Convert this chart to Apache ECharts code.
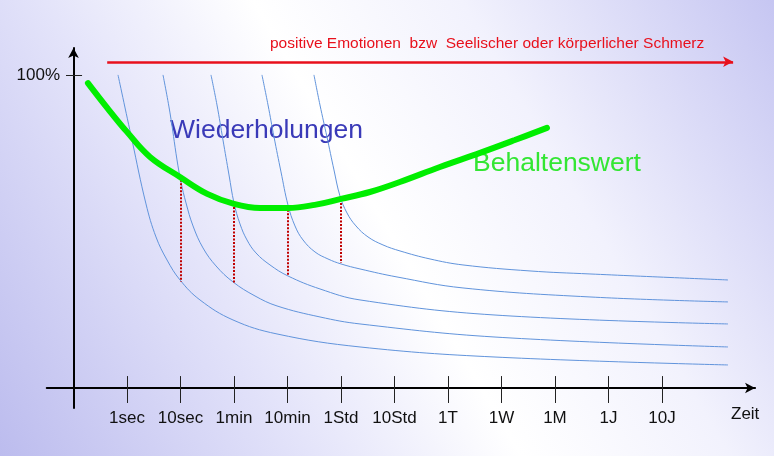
<!DOCTYPE html>
<html><head><meta charset="utf-8">
<script src="https://cdn.jsdelivr.net/npm/echarts@6/dist/echarts.min.js"></script>
<style>html,body{margin:0;padding:0;background:#fff;}#c{width:774px;height:456px;}</style>
</head><body><div id="c"></div>
<script>
// ---- data ----
const tickNames = ['1sec','10sec','1min','10min','1Std','10Std','1T','1W','1M','1J','10J'];
const tickPos = [1,2,3,4,5,6,7,8,9,10,11];
const yTickValues = [100];
const xName = 'Zeit';
const topText = 'positive Emotionen  bzw  Seelischer oder körperlicher Schmerz';
const repLabel = 'Wiederholungen';
const retLabel = 'Behaltenswert';

// forgetting curves (x = log-time position, y = percent)
const curve1 = [[0.832,100],[1.093,79.23],[1.355,58.79],[1.542,48.24],[1.748,40.89],[1.991,34.50],[2.364,28.12],[2.981,21.73],[3.804,17.25],[5.355,13.10],[7.860,9.90],[12.234,7.35]];
const curve2 = [[1.673,100],[1.804,87.86],[1.935,72.84],[2.009,65.81],[2.103,59.11],[2.234,51.76],[2.421,44.73],[2.664,38.98],[2.981,33.87],[3.393,29.39],[3.804,26.20],[4.607,22.68],[5.355,20.45],[7.860,16.29],[12.234,13.10]];
const curve3 = [[2.570,100],[2.682,90.42],[2.794,79.23],[2.907,68.05],[3.000,59.11],[3.112,52.40],[3.243,47.28],[3.411,43.13],[3.673,39.30],[4.009,35.78],[4.607,31.63],[5.355,28.12],[7.860,23.32],[12.234,20.45]];
const curve4 = [[3.523,100],[3.636,90.42],[3.748,80.19],[3.879,69.01],[4.009,58.47],[4.140,51.76],[4.290,47.28],[4.514,43.45],[4.757,41.21],[5.000,39.62],[5.355,38.02],[6.047,35.46],[7.280,31.95],[9.654,29.07],[12.234,27.48]];
const curve5 = [[4.495,100],[4.607,90.42],[4.738,80.19],[4.869,69.65],[4.981,61.34],[5.112,55.91],[5.280,51.76],[5.505,48.24],[5.785,45.69],[6.103,43.77],[6.664,41.21],[7.280,39.30],[8.533,37.38],[9.654,36.42],[12.234,34.50]];
// retention value curve
const retention = [[0.27,97.4],[0.63,89.5],[1.0,81.8],[1.43,73.8],[1.99,67.4],[2.50,62.0],[3.0,58.8],[3.49,57.5],[4.01,57.5],[4.51,58.5],[5.0,60.4],[5.54,62.6],[6.10,65.8],[6.85,70.6],[7.60,75.1],[8.25,79.2],[8.85,83.1]];
// dotted repetition markers
const dotX = [2,3,4,5];
const dotTop = [66.5,57.8,56.9,59.1];
const dotBottom = [33.9,33.5,35.8,39.9];
// top arrow
const arrowY = 104.2, arrowFrom = 0.63, arrowTo = 12.33;

// ---- chart ----
const FONT = '"Liberation Sans", Arial, sans-serif';
const chart = echarts.init(document.getElementById('c'), null, {renderer:'canvas'});
const blue = [curve1,curve2,curve3,curve4,curve5].map(d => ({
  type:'line', data:d, smooth:0.4, symbol:'none', silent:true, z:2,
  lineStyle:{color:'#6194dc', width:1}
}));
chart.setOption({
  animation:false,
  backgroundColor:{type:'linear', x:0, y:1, x2:1, y2:0, colorStops:[
    {offset:0,color:'#bcbcee'},{offset:0.3,color:'#e4e4fa'},{offset:0.5,color:'#ffffff'},{offset:0.7,color:'#f2f2fd'},{offset:1,color:'#c6c6f2'}]},
  grid:{left:46.75, top:48, width:708.3, height:360, outerBoundsMode:'none', containLabel:false},
  xAxis:{type:'value', min:-0.5, max:12.74,
    axisLine:{onZero:true, lineStyle:{color:'#000', width:2}, symbol:['none','arrow'], symbolSize:[8,10]},
    axisTick:{show:false}, splitLine:{show:false},
    axisLabel:{customValues:tickPos, formatter:v=>tickNames[Math.round(v)-1]||'', margin:2, color:'#111', fontSize:17, fontFamily:FONT}},
  yAxis:{type:'value', min:-6.4, max:108.6,
    axisLine:{show:true, onZero:true, lineStyle:{color:'#000', width:2}, symbol:['none','arrow'], symbolSize:[8,10]},
    axisTick:{show:false}, splitLine:{show:false},
    axisLabel:{customValues:yTickValues, formatter:v=>v+'%', margin:-13.25, color:'#111', fontSize:17, fontFamily:FONT}},
  graphic:[
    {type:'text', left:270, top:36, style:{text:topText, fill:'#e8101c', font:'15.5px '+FONT}},
    {type:'text', left:170, top:117, style:{text:repLabel, fill:'#3a3ab8', font:'26.5px '+FONT}},
    {type:'text', left:473, top:150, style:{text:retLabel, fill:'#33e633', font:'26.5px '+FONT}},
    {type:'text', left:731, top:406, style:{text:xName, fill:'#111', font:'17px '+FONT}}
  ],
  series:[...blue,
    {type:'line', data:[], silent:true, z:3,
      markLine:{silent:true, symbol:['none','none'], label:{show:false}, lineStyle:{color:'#c00000', width:2, type:[2,1.5]},
        data: dotX.map((x,i)=>[{coord:[x,dotTop[i]]},{coord:[x,dotBottom[i]]}])}},
    {type:'line', data:[], silent:true, z:3,
      markLine:{silent:true, symbol:['none','none'], label:{show:false}, lineStyle:{color:'#222', width:1, type:'solid'},
        data: tickPos.map(v=>[{coord:[v,-4.8]},{coord:[v,3.8]}]).concat(yTickValues.map(v=>[{coord:[-0.14,v]},{coord:[0.16,v]}]))}},
    {type:'line', data:[], silent:true, z:3,
      markLine:{silent:true, symbol:['none','arrow'], symbolSize:[8,10], label:{show:false}, lineStyle:{color:'#e8101c', width:2.5, type:'solid'},
        data:[[{coord:[arrowFrom,arrowY]},{coord:[arrowTo,arrowY]}]]}},
    {type:'line', data:retention, smooth:0.4, symbol:'none', silent:true, z:5,
      lineStyle:{color:'#00ee00', width:6, cap:'round'}}
  ]
});
</script></body></html>
